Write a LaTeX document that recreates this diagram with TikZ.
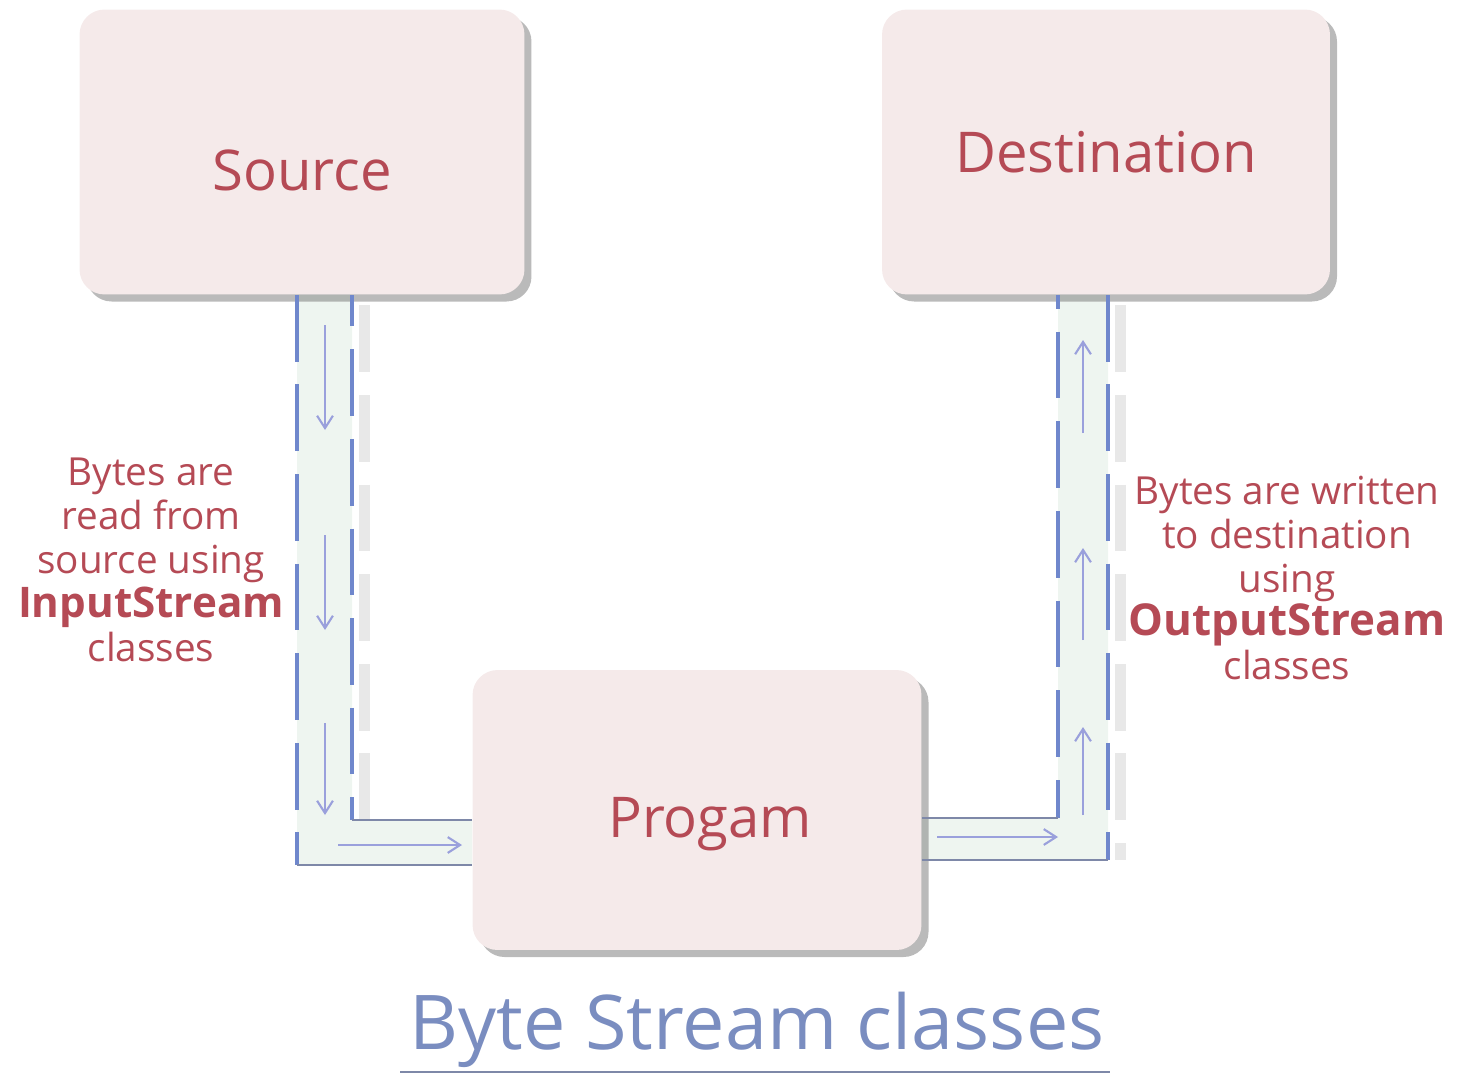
\documentclass[tikz,border=0pt]{standalone}
\usepackage{fontspec}
\setmainfont{Open Sans}
\usetikzlibrary{arrows.meta,shadows,backgrounds}
\definecolor{boxfill}{HTML}{F5EAEA}
\definecolor{txtred}{HTML}{B54A55}
\definecolor{pipeblue}{HTML}{6F87CC}
\definecolor{arrowpurple}{HTML}{9AA0DC}
\definecolor{linegray}{HTML}{7E88A8}
\definecolor{titleblue}{HTML}{7A8DC0}
\definecolor{pipefill}{HTML}{EEF5F0}
\begin{document}
\begin{tikzpicture}[x=0.02cm,y=-0.02cm,
  box/.style={rounded corners=0.5cm, fill=boxfill, draw=none, minimum width=8.9cm, minimum height=5.7cm,
    text=txtred, font=\fontsize{32}{36}\selectfont,
    drop shadow={shadow xshift=4pt, shadow yshift=-4pt, fill=black!60, opacity=0.45}},
  sidelabel/.style={text=txtred, align=center, font=\fontsize{22}{25}\selectfont, inner sep=0pt},
  pipedash/.style={draw=pipeblue, line width=2.8pt, dash pattern=on 38pt off 13pt},
  pipeshadow/.style={draw=black!45, opacity=0.2, line width=6pt, dash pattern=on 38pt off 13pt},
  pipeline/.style={draw=linegray, line width=1.6pt},
  flow/.style={draw=arrowpurple, line width=1.2pt, -{Straight Barb[length=7pt,width=9pt]}}
]
\useasboundingbox (0,0) rectangle (1462,1081);

% boxes
\node[box] (src) at (302,152) {\raisebox{-22pt}[0pt][0pt]{Source}};
\node[box, minimum width=8.96cm] (dst) at (1106,152) {Destination};
\node[box, minimum width=8.98cm, minimum height=5.6cm] (prog) at (697,810) {\hspace*{15pt}\raisebox{-15.5pt}[0pt][0pt]{Progam}};

% key coordinates of the pipes
\coordinate (lo) at (297,865);
\coordinate (li) at (352,820);
\coordinate (ri) at (1058,818);
\coordinate (ro) at (1108,860);

\begin{scope}[on background layer]
  \fill[pipefill] (src.south -| lo) -- (lo) -- (prog.west |- lo) -- (prog.west |- li) -- (li) -- (src.south -| li) -- cycle;
  \fill[pipefill] (dst.south -| ro) -- (ro) -- (prog.east |- ro) -- (prog.east |- ri) -- (ri) -- (dst.south -| ri) -- cycle;
  \draw[pipeshadow] ([xshift=7pt,yshift=-6pt]src.south -| li) -- ([xshift=7pt]li);
  \draw[pipeshadow] ([xshift=7pt,yshift=-6pt]dst.south -| ro) -- ([xshift=7pt]ro);
\end{scope}

% left pipe
\draw[pipedash] (src.south -| lo) -- (lo);
\draw[pipedash, dash phase=20pt] (src.south -| li) -- (li);
\draw[pipeline] (lo) -- (prog.west |- lo);
\draw[pipeline] (li) -- (prog.west |- li);

% right pipe
\draw[pipedash, dash phase=30pt] (dst.south -| ri) -- (ri);
\draw[pipedash] (dst.south -| ro) -- (ro);
\draw[pipeline] (prog.east |- ri) -- (ri);
\draw[pipeline] (prog.east |- ro) -- (ro);

% flow arrows, left
\coordinate (la1) at (325,325); \coordinate (lb1) at (325,430);
\coordinate (la2) at (325,535); \coordinate (lb2) at (325,630);
\coordinate (la3) at (325,723); \coordinate (lb3) at (325,815);
\coordinate (lh1) at (338,845); \coordinate (lh2) at (462,845);
\draw[flow] (la1) -- (lb1);
\draw[flow] (la2) -- (lb2);
\draw[flow] (la3) -- (lb3);
\draw[flow] (lh1) -- (lh2);

% flow arrows, right
\coordinate (ra1) at (1083,433); \coordinate (rb1) at (1083,340);
\coordinate (ra2) at (1083,640); \coordinate (rb2) at (1083,548);
\coordinate (ra3) at (1083,815); \coordinate (rb3) at (1083,727);
\coordinate (rh1) at (937,837); \coordinate (rh2) at (1058,837);
\draw[flow] (ra1) -- (rb1);
\draw[flow] (ra2) -- (rb2);
\draw[flow] (ra3) -- (rb3);
\draw[flow] (rh1) -- (rh2);

% side labels
\node[sidelabel] (inlbl) at (151,560) {Bytes are\\read from\\source using\\{\bfseries\fontsize{24}{28}\selectfont InputStream}\\classes};
\node[sidelabel] (outlbl) at (1287,578) {Bytes are written\\to destination\\using\\{\bfseries\fontsize{25}{28}\selectfont OutputStream}\\classes};

% title
\node[text=titleblue, font=\fontsize{43}{46}\selectfont, inner sep=0pt] (title) at (757,1030) {Byte Stream classes};
\coordinate (ul1) at (400,1072); \coordinate (ul2) at (1110,1072);
\draw[pipeline] (ul1) -- (ul2);
\end{tikzpicture}
\end{document}
